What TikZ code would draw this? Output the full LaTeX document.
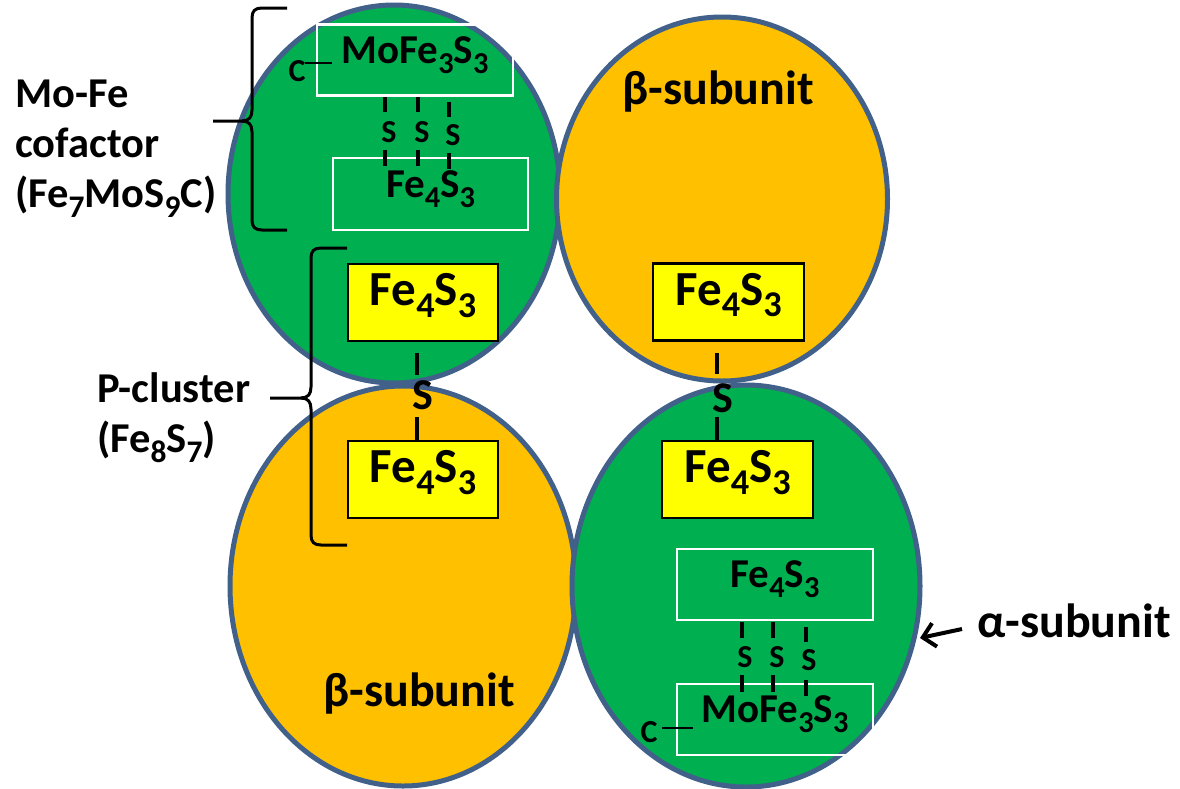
\documentclass[tikz,border=0pt]{standalone}
\usepackage{fontspec}
\setmainfont{Carlito}
\usetikzlibrary{shapes.geometric,arrows.meta}
\definecolor{ogreen}{HTML}{00B050}
\definecolor{oorange}{HTML}{FFC000}
\definecolor{oyellow}{HTML}{FFFF00}
\definecolor{oline}{HTML}{41608A}
\newcommand\chsub[1]{\raisebox{-0.24em}{\scalebox{0.74}{#1}}}
\begin{document}
\begin{tikzpicture}[x=1pt,y=-1pt,
  blob/.style={ellipse, draw=oline, line width=5pt, inner sep=0pt},
  ybox/.style={draw=black, line width=2.5pt, fill=oyellow, minimum width=150pt, minimum height=77pt, inner sep=0pt, text height=0.64em, text depth=0pt, font=\bfseries\fontsize{49}{52}\selectfont},
  wbox/.style={draw=white, line width=2.5pt, minimum width=196pt, minimum height=71pt, inner sep=0pt, text height=0.64em, text depth=0pt, font=\bfseries\fontsize{41}{44}\selectfont},
  bond/.style={line width=4pt},
  ss/.style={font=\bfseries\fontsize{32}{34}\selectfont, inner sep=0pt},
  bigs/.style={font=\bfseries\fontsize{44}{46}\selectfont, inner sep=0pt},
  lbl/.style={font=\bfseries\fontsize{42.5}{50}\selectfont, inner sep=0pt, align=left},
  sublbl/.style={font=\bfseries\fontsize{48}{52}\selectfont, inner sep=0pt},
  brace/.style={line width=3pt, line join=round}
]
\useasboundingbox (0,0) rectangle (1180,788);
% subunits
\node[blob, fill=ogreen,  minimum width=332pt, minimum height=378pt] (tl) at (394,194) {};
\node[blob, fill=oorange, minimum width=331pt, minimum height=364pt] (tr) at (722,199) {};
\node[blob, fill=oorange, minimum width=346pt, minimum height=400pt] (bl) at (403,586) {};
\node[blob, fill=ogreen,  minimum width=348pt, minimum height=402pt] (br) at (746,586) {};
% Mo-Fe cofactor (top left)
\node[wbox] (mo1) at (415,60) {MoFe\chsub{3}S\chsub{3}};
\node[wbox, minimum width=195pt, minimum height=72pt] (fe1) at (430.5,194) {Fe\chsub{4}S\chsub{3}};
\node[ss] (c1) at (297,71) {C};
\coordinate (c1e) at (332,63);
\draw[line width=2.2pt] (305,63) -- (c1e);
\node[ss] (s1a) at (389,132) {S};
\node[ss] (s1b) at (422,132) {S};
\node[ss] (s1c) at (453,135) {S};
\draw[bond] (385,97) -- (385,112) (418,97) -- (418,112) (449,102) -- (449,117);
\draw[bond] (385,150) -- (385,166) (418,150) -- (418,166) (449,153) -- (449,169);
% P-clusters
\node[ybox] (yl1) at (423,302.5) {Fe\chsub{4}S\chsub{3}};
\node[ybox] (yl2) at (423,479.5) {Fe\chsub{4}S\chsub{3}};
\node[ybox, minimum width=151pt] (yr1) at (728.5,302) {Fe\chsub{4}S\chsub{3}};
\node[ybox, minimum width=151pt] (yr2) at (737.5,479.5) {Fe\chsub{4}S\chsub{3}};
\node[bigs] (sl) at (423,395) {S};
\node[bigs] (sr) at (723,398) {S};
\draw[bond] (417,353) -- (417,375) (417,417) -- (417,440);
\draw[bond] (717,353) -- (717,374) (717,417) -- (717,440);
% Mo-Fe cofactor (bottom right)
\node[wbox] (fe2) at (775,584.5) {Fe\chsub{4}S\chsub{3}};
\node[wbox] (mo2) at (775,719.5) {MoFe\chsub{3}S\chsub{3}};
\node[ss] (c2) at (649,732) {C};
\coordinate (c2e) at (693,728);
\draw[line width=2.2pt] (662,728) -- (c2e);
\node[ss] (s2a) at (745,657) {S};
\node[ss] (s2b) at (777,657) {S};
\node[ss] (s2c) at (809,660) {S};
\draw[bond] (742,622) -- (742,638) (773,622) -- (773,638) (806,627) -- (806,642);
\draw[bond] (742,675) -- (742,692) (773,675) -- (773,692) (806,680) -- (806,696);
% braces
\coordinate (b1tip) at (213,121);
\draw[brace] (287,8) -- (262,8) .. controls (255,8) and (252,11) .. (252,18) -- (252,110)
  .. controls (252,117) and (249,121) .. (242,121) -- (b1tip);
\draw[brace] (242,121) .. controls (249,121) and (252,125) .. (252,132) -- (252,220)
  .. controls (252,227) and (255,230) .. (262,230) -- (287,230);
\coordinate (b2tip) at (270,398);
\draw[brace] (347,248) -- (321,248) .. controls (314,248) and (311,251) .. (311,258) -- (311,387)
  .. controls (311,394) and (308,398) .. (301,398) -- (b2tip);
\draw[brace] (301,398) .. controls (308,398) and (311,402) .. (311,409) -- (311,535)
  .. controls (311,542) and (314,545) .. (321,545) -- (347,545);
% labels
\node[lbl, anchor=base west] (lmofe) at (15,207) {Mo-Fe\\cofactor\\(Fe\chsub{7}MoS\chsub{9}C)};
\node[lbl, anchor=base west] (lpc) at (97,452) {P-cluster\\(Fe\chsub{8}S\chsub{7})};
\node[sublbl, anchor=base] (lb1) at (718,104) {β-subunit};
\node[sublbl, anchor=base] (lb2) at (419,706) {β-subunit};
\node[sublbl, anchor=base west] (la) at (977,637) {α-subunit};
\coordinate (atip) at (920,638);
\draw[line width=4pt, -{Straight Barb[length=12pt,width=24pt]}] (962,629) -- (atip);
\end{tikzpicture}
\end{document}
